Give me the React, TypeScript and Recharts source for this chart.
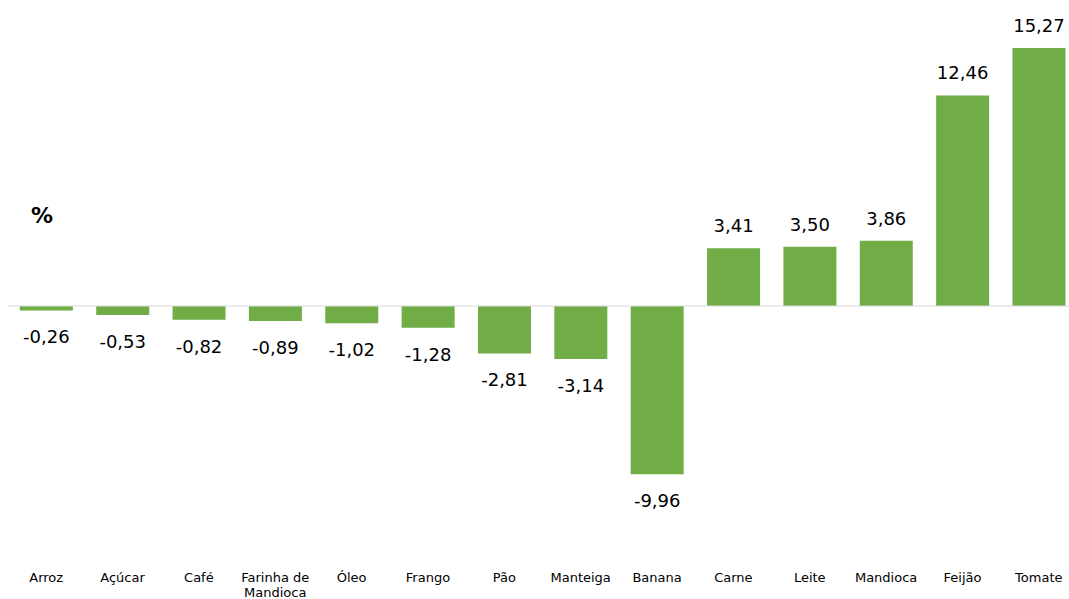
import React from 'react';
import { BarChart, Bar, XAxis, YAxis, ReferenceLine, LabelList } from 'recharts';

const categories = ['Arroz', 'Açúcar', 'Café', 'Farinha de Mandioca', 'Óleo', 'Frango', 'Pão', 'Manteiga', 'Banana', 'Carne', 'Leite', 'Mandioca', 'Feijão', 'Tomate'];
const values = [-0.26, -0.53, -0.82, -0.89, -1.02, -1.28, -2.81, -3.14, -9.96, 3.41, 3.5, 3.86, 12.46, 15.27];

const data = categories.map((c, i) => ({ name: c, value: values[i] }));

const FONT = '"DejaVu Sans", sans-serif';

const fmt = (v: number) => v.toFixed(2).replace('.', ',');

const ValueLabel = (props: any) => {
  const { x, y, width, height, value } = props;
  const top = Math.min(y, y + height);
  const bottom = Math.max(y, y + height);
  const cx = x + width / 2;
  if (value >= 0) {
    return (
      <text x={cx} y={top - 16} textAnchor="middle" fontSize={18} fill="#000" fontFamily={FONT}>
        {fmt(value)}
      </text>
    );
  }
  return (
    <text x={cx} y={bottom + 33} textAnchor="middle" fontSize={18} fill="#000" fontFamily={FONT}>
      {fmt(value)}
    </text>
  );
};

const CatTick = (props: any) => {
  const { x, y, payload } = props;
  const label: string = payload.value;
  const lines = label === 'Farinha de Mandioca' ? ['Farinha de', 'Mandioca'] : [label];
  return (
    <g>
      {lines.map((l, i) => (
        <text key={i} x={x} y={y + 14 + i * 15} textAnchor="middle" fontSize={13} fill="#000" fontFamily={FONT}>
          {l}
        </text>
      ))}
    </g>
  );
};

export default function App() {
  return (
    <div style={{ position: 'absolute', left: 0, top: 0, width: 1069, height: 599, overflow: 'hidden', background: '#fff' }}>
      <BarChart width={1077} height={599} data={data} margin={{ top: 35.6, right: 0, bottom: 0, left: 8 }} barCategoryGap="15.5%">
        <XAxis dataKey="name" axisLine={false} tickLine={false} interval={0} height={39.5} tick={<CatTick />} />
        <YAxis hide domain={[-15, 16]} allowDataOverflow />
        <ReferenceLine y={0} stroke="#d9d9d9" strokeWidth={1} />
        <Bar dataKey="value" fill="#70ad47" isAnimationActive={false}>
          <LabelList dataKey="value" content={<ValueLabel />} />
        </Bar>
        <text x={42} y={223} textAnchor="middle" fontSize={22} fontWeight="bold" fill="#000" fontFamily={FONT}>%</text>
      </BarChart>
    </div>
  );
}
